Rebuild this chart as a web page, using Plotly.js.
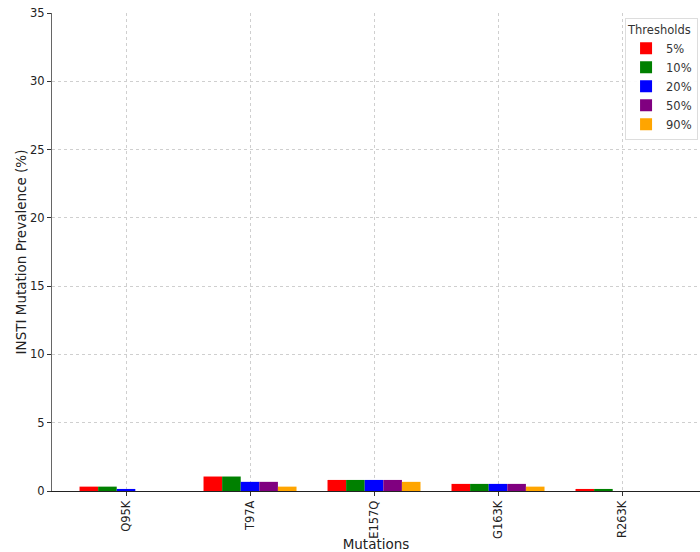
<!DOCTYPE html>
<html>
<head>
<meta charset="utf-8">
<script src="https://cdn.plot.ly/plotly-3.0.1.min.js"></script>
<style>html,body{margin:0;padding:0;background:#fff;}#chart{width:700px;height:552px;}</style>
</head>
<body>
<div id="chart"></div>
<script>
const mutations = ["Q95K", "T97A", "E157Q", "G163K", "R263K"];
const thresholds = ["5%", "10%", "20%", "50%", "90%"];
const colors = ["red", "green", "blue", "purple", "orange"];
const v5  = [0.32, 1.06, 0.81, 0.52, 0.15];
const v10 = [0.32, 1.06, 0.81, 0.52, 0.15];
const v20 = [0.15, 0.67, 0.81, 0.52, 0.0];
const v50 = [0.0, 0.67, 0.81, 0.52, 0.0];
const v90 = [0.0, 0.32, 0.67, 0.32, 0.0];
const series = [v5, v10, v20, v50, v90];

const traces = series.map((vals, i) => ({
  type: "bar",
  x: mutations,
  y: vals,
  name: thresholds[i],
  marker: {color: colors[i], line: {width: 0}},
  hoverinfo: "x+y+name"
}));

const ff = "DejaVu Sans, sans-serif";
const layout = {
  width: 700, height: 552,
  margin: {l: 52, r: 0, t: 13, b: 61, pad: 0},
  paper_bgcolor: "#fff", plot_bgcolor: "#fff",
  font: {family: ff, size: 11, color: "#222"},
  barmode: "group", bargap: 0.25, bargroupgap: 0,
  showlegend: true,
  legend: {
    title: {text: "Thresholds", font: {family: ff, size: 11.5, color: "#333"}},
    x: 0.997, xanchor: "right", y: 0.99, yanchor: "top",
    bgcolor: "rgba(255,255,255,0.9)", bordercolor: "#ddd", borderwidth: 1,
    font: {family: ff, size: 11.5, color: "#333"},
    tracegroupgap: 0, itemsizing: "constant"
  },
  xaxis: {
    type: "category",
    range: [-0.597, 4.629],
    tickangle: -90,
    ticks: "outside", ticklen: 4, tickcolor: "#333",
    showgrid: true, gridcolor: "#cfcfcf", griddash: "dot", gridwidth: 1,
    showline: true, linecolor: "#222", linewidth: 1,
    zeroline: false,
    tickfont: {family: ff, size: 11.5, color: "#222"},
    title: {text: "Mutations", font: {family: ff, size: 13.5, color: "#222"}, standoff: 4}
  },
  yaxis: {
    range: [0, 35],
    dtick: 5,
    ticks: "outside", ticklen: 4, tickcolor: "#333",
    showgrid: true, gridcolor: "#cfcfcf", griddash: "dot", gridwidth: 1,
    showline: true, linecolor: "#666", linewidth: 1,
    zeroline: false,
    tickfont: {family: ff, size: 11.5, color: "#222"},
    title: {text: "INSTI Mutation Prevalence (%)", font: {family: ff, size: 13.5, color: "#222"}, standoff: 0}
  }
};

Plotly.newPlot("chart", traces, layout, {displayModeBar: false, staticPlot: true});
</script>
</body>
</html>
